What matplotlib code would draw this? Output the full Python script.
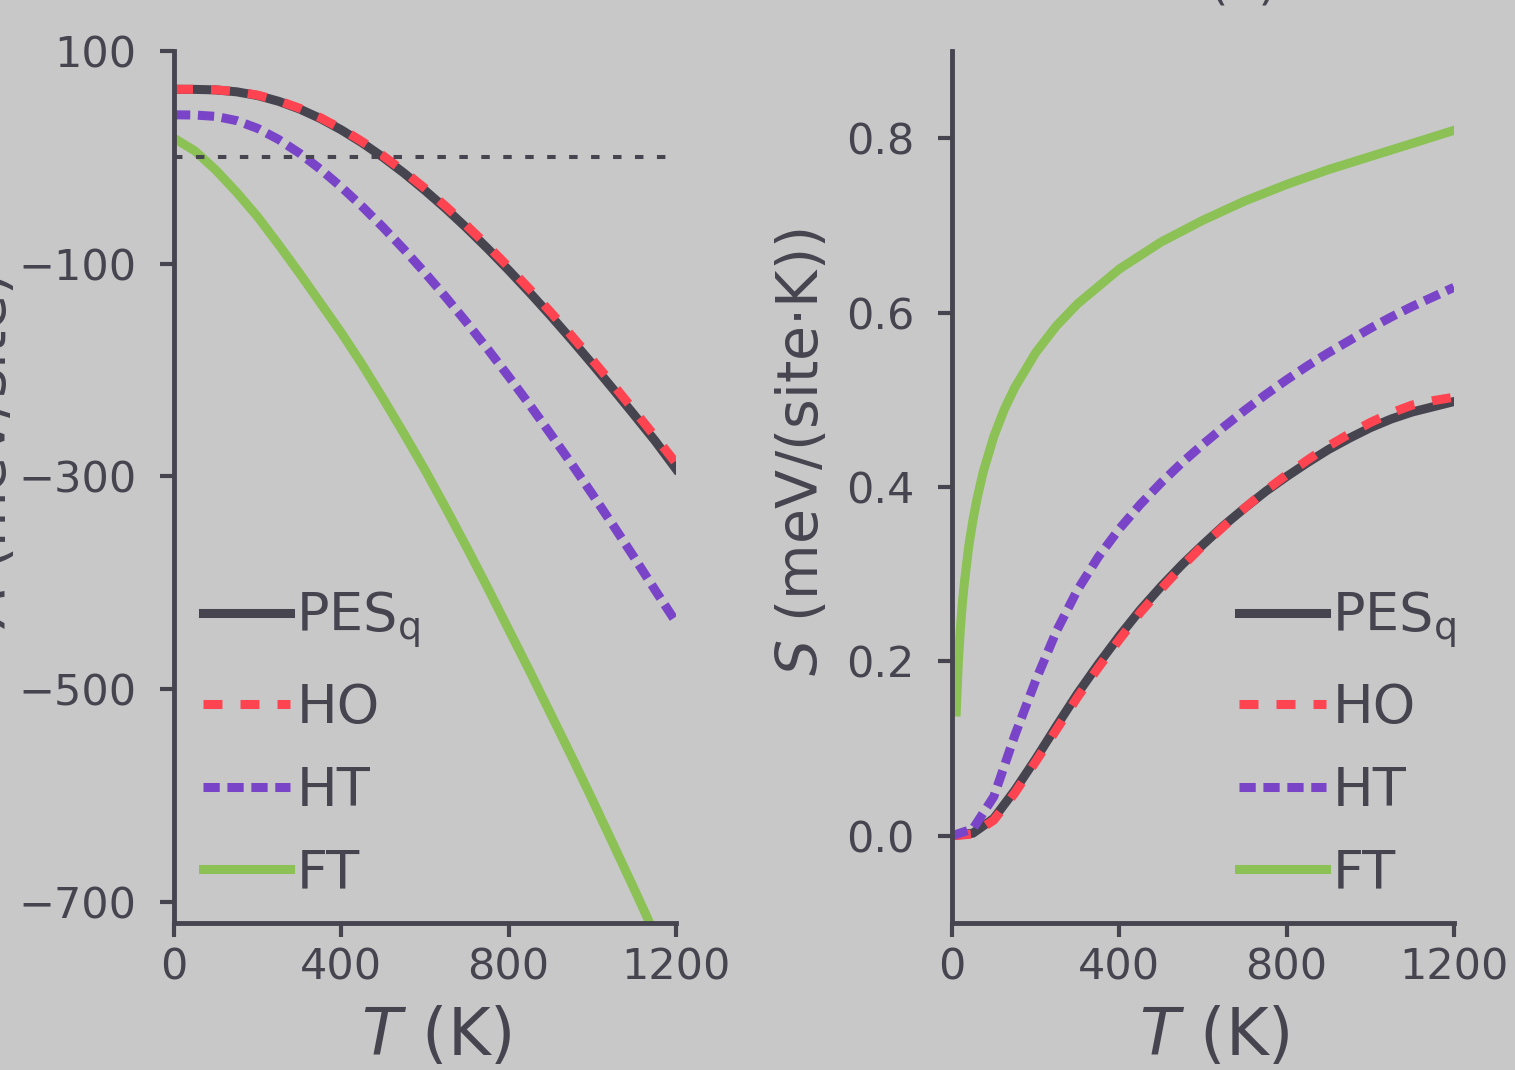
import matplotlib
matplotlib.use("Agg")
import matplotlib.pyplot as plt

# temperature grids (K)
T = [0, 50, 100, 150, 200, 250, 300, 350, 400, 450, 500, 550, 600,
     650, 700, 750, 800, 850, 900, 950, 1000, 1050, 1100, 1150, 1200]
T_ft = [10, 15, 20, 25, 30, 40, 50, 60, 75, 100, 125, 150, 200, 250, 300,
        400, 500, 600, 700, 800, 900, 1000, 1100, 1200]

# free energy A (meV/site)
A_pes = [64, 63.9, 63.4, 61.6, 58.1, 52.7, 45.5, 36.5, 25.8, 13.6, 0.0, -14.9, -31.1,
         -48.3, -66.6, -85.9, -106.1, -127.1, -148.8, -171.3, -194.4, -218.1, -242.2, -266.6, -293]
A_ho = [64, 64, 63.5, 61.8, 58.5, 53.2, 46.2, 37.3, 26.8, 14.8, 1.4, -13.3, -29.2,
        -46.2, -64.3, -83.3, -103.2, -123.9, -145.4, -167.6, -190.5, -214, -238.1, -262.6, -287.5]
A_ht = [40, 39.8, 38.5, 34.5, 27.2, 16.8, 3.9, -11.2, -28.0, -46.3, -65.9, -86.7, -108.6,
        -131.6, -155.5, -180.4, -206.1, -232.6, -260.0, -288.0, -316.8, -346.2, -376.2, -406.9, -437]
A_ft = [18, 6, -12, -33, -56, -82, -109, -137, -165, -195, -227, -260, -294,
        -330, -367, -405, -444, -483, -523, -563, -604, -646, -688, -731, -774]

# entropy S (meV/(site K))
S_pes = [0, .003, .02, .052, .088, .126, .163, .197, .229, .259, .286, .311, .334,
         .356, .376, .395, .412, .428, .443, .456, .468, .478, .486, .492, .498]
S_ho = [0, .002, .018, .049, .085, .122, .159, .193, .225, .256, .283, .309, .333,
        .355, .376, .396, .414, .431, .447, .461, .474, .485, .494, .499, .503]
S_ht = [0, .008, .045, .115, .178, .235, .282, .320, .352, .380, .405, .428, .449,
        .469, .488, .506, .523, .539, .554, .568, .582, .595, .607, .618, .629]
S_ft = [.142, .198, .238, .268, .292, .332, .362, .387, .418, .458, .489, .514, .554,
        .585, .61, .65, .681, .706, .728, .747, .764, .779, .794, .809]

LABELS = [r"PES$_{\rm q}$", "HO", "HT", "FT"]
BG = "#c8c8c8"
INK = "#46444f"
RED = "#ff4451"
PURPLE = "#7a44c8"
GREEN = "#8bc155"
LW = 6.5

plt.rcParams.update({
    "font.family": "DejaVu Sans",
    "mathtext.fontset": "dejavusans",
    "text.color": INK,
    "axes.labelcolor": INK,
    "xtick.color": INK,
    "ytick.color": INK,
    "axes.edgecolor": INK,
})

fig = plt.figure(figsize=(15.15, 10.7), dpi=100, facecolor=BG)
W, H = 1515, 1070
ax1 = fig.add_axes([174 / W, 147 / H, 502 / W, 872 / H], facecolor=BG)
ax2 = fig.add_axes([952 / W, 147 / H, 502 / W, 872 / H], facecolor=BG)


def draw(ax, pes, ho, ht, ft, t_ft, legend_x):
    ax.plot(T, pes, color=INK, lw=LW, label=LABELS[0])
    ax.plot(T, ho, color=RED, lw=LW, dashes=(2.1, 2.0), label=LABELS[1])
    ax.plot(T, ht, color=PURPLE, lw=LW, dashes=(1.8, 0.85), label=LABELS[2])
    ax.plot(t_ft, ft, color=GREEN, lw=LW, label=LABELS[3])
    for side in ("top", "right"):
        ax.spines[side].set_visible(False)
    for side in ("left", "bottom"):
        ax.spines[side].set_linewidth(3.5)
    ax.tick_params(direction="out", length=10, width=3, labelsize=31)
    ax.tick_params(axis="x", pad=7)
    ax.tick_params(axis="y", pad=17)
    ax.set_xlim(0, 1200)
    ax.set_xticks([0, 400, 800, 1200])
    ax.set_xlabel(r"$T$ (K)", fontsize=47, labelpad=12)
    ax.xaxis.label.set_x(0.522)
    ax.legend(loc="lower left", bbox_to_anchor=(legend_x, 0.027), frameon=False,
              fontsize=39, handlelength=1.6, handletextpad=0.12,
              labelspacing=0.57, borderpad=0, borderaxespad=0)


draw(ax1, A_pes, A_ho, A_ht, A_ft, T, 0.058)
ax1.axhline(0, color=INK, lw=2.9, dashes=(2.1, 3.35))
ax1.set_ylim(-720, 100)
ax1.set_yticks([100, -100, -300, -500, -700])
ax1.set_ylabel(r"$A$ (meV/site)", fontsize=41)
ax1.yaxis.set_label_coords(-0.31, 0.54)

draw(ax2, S_pes, S_ho, S_ht, S_ft, T_ft, 0.572)
ax2.set_ylim(-0.1, 0.9)
ax2.set_yticks([0.0, 0.2, 0.4, 0.6, 0.8])
ax2.set_ylabel(r"$S$ (meV/(site·K))", fontsize=41)
ax2.yaxis.set_label_coords(-0.243, 0.54)

fig.text(1243 / W, 1 + 1.5 / H, "(b)", fontsize=34, ha="center", va="baseline")

fig.savefig("out.png", dpi=100, facecolor=BG)
